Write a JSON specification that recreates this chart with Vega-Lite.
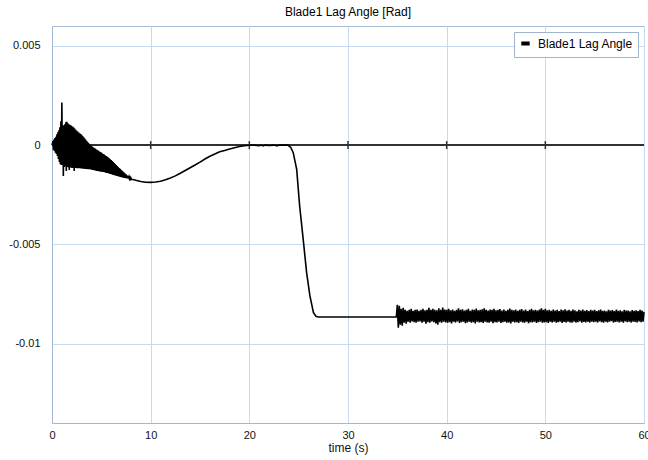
{
  "$schema": "https://vega.github.io/schema/vega-lite/v6.json",
  "width": 592,
  "height": 397,
  "autosize": {"type": "none"},
  "padding": {"left": 52, "top": 26, "right": 4, "bottom": 37},
  "title": {"text": "Blade1 Lag Angle [Rad]", "fontSize": 12, "fontWeight": "normal", "font": "Liberation Sans", "color": "#000000", "anchor": "middle", "offset": 7},
  "config": {
    "view": {"stroke": "#a9bcd6", "strokeWidth": 1},
    "axis": {"labelFont": "Liberation Sans", "labelFontSize": 11, "labelColor": "#111111", "titleFont": "Liberation Sans", "titleFontSize": 12, "titleFontWeight": "normal", "titleColor": "#111111", "gridColor": "#c6daf2", "gridWidth": 1, "gridOpacity": 1, "domainColor": "#a4b7d2", "ticks": false}
  },
  "data": {"values": [
    {"t":0.0,"v":0},{"t":0.1,"v":0.0002},{"t":0.15,"v":-0.00025},{"t":0.2,"v":0.00028},{"t":0.25,"v":-0.0003},{"t":0.3,"v":0.00035},{"t":0.35,"v":-0.00038},{"t":0.4,"v":0.00042},{"t":0.45,"v":-0.00045},
    {"t":0.5,"v":0.00055},{"t":0.55,"v":-0.00055},{"t":0.6,"v":0.00065},{"t":0.65,"v":-0.0007},{"t":0.7,"v":0.00075},{"t":0.75,"v":-0.00085},{"t":0.8,"v":0.0009},{"t":0.85,"v":-0.00097},{"t":0.9,"v":0.0012},{"t":0.95,"v":-0.001},
    {"t":1.0,"v":0.00214},{"t":1.05,"v":-0.001},{"t":1.1,"v":0.001},{"t":1.15,"v":-0.00156},{"t":1.2,"v":0.001},{"t":1.25,"v":-0.0011},{"t":1.3,"v":0.00105},{"t":1.35,"v":-0.00105},{"t":1.4,"v":0.00115},{"t":1.45,"v":-0.0013},
    {"t":1.5,"v":0.00118},{"t":1.55,"v":-0.0011},{"t":1.6,"v":0.0011},{"t":1.65,"v":-0.00112},{"t":1.7,"v":0.00105},{"t":1.75,"v":-0.00125},{"t":1.8,"v":0.00102},{"t":1.85,"v":-0.00112},{"t":1.9,"v":0.001},{"t":1.95,"v":-0.00114},
    {"t":2.0,"v":0.00096},{"t":2.05,"v":-0.00115},{"t":2.1,"v":0.00092},{"t":2.15,"v":-0.00114},{"t":2.2,"v":0.00088},{"t":2.25,"v":-0.0013},{"t":2.3,"v":0.00083},{"t":2.35,"v":-0.00115},{"t":2.4,"v":0.00077},{"t":2.45,"v":-0.00115},
    {"t":2.5,"v":0.00072},{"t":2.55,"v":-0.00116},{"t":2.6,"v":0.00068},{"t":2.65,"v":-0.00116},{"t":2.7,"v":0.00064},{"t":2.75,"v":-0.00117},{"t":2.8,"v":0.0006},{"t":2.85,"v":-0.00117},{"t":2.9,"v":0.00056},{"t":2.95,"v":-0.00118},
    {"t":3.0,"v":0.00052},{"t":3.05,"v":-0.00118},{"t":3.1,"v":0.00046},{"t":3.15,"v":-0.00119},{"t":3.2,"v":0.0004},{"t":3.25,"v":-0.00119},{"t":3.3,"v":0.00034},{"t":3.35,"v":-0.0012},{"t":3.4,"v":0.00028},{"t":3.45,"v":-0.0012},
    {"t":3.5,"v":0.00022},{"t":3.55,"v":-0.0012},{"t":3.6,"v":0.00017},{"t":3.65,"v":-0.00121},{"t":3.7,"v":0.00011},{"t":3.75,"v":-0.00122},{"t":3.8,"v":0.00006},{"t":3.85,"v":-0.00122},{"t":3.9,"v":0.00001},{"t":3.95,"v":-0.00123},
    {"t":4.0,"v":-0.00004},{"t":4.05,"v":-0.00124},{"t":4.1,"v":-0.00008},{"t":4.15,"v":-0.00125},{"t":4.2,"v":-0.00012},{"t":4.25,"v":-0.00126},{"t":4.3,"v":-0.00015},{"t":4.35,"v":-0.00127},{"t":4.4,"v":-0.00019},{"t":4.45,"v":-0.00129},
    {"t":4.5,"v":-0.00022},{"t":4.55,"v":-0.0013},{"t":4.6,"v":-0.00025},{"t":4.65,"v":-0.00131},{"t":4.7,"v":-0.00028},{"t":4.75,"v":-0.00132},{"t":4.8,"v":-0.00032},{"t":4.85,"v":-0.00133},{"t":4.9,"v":-0.00035},{"t":4.95,"v":-0.00134},
    {"t":5.0,"v":-0.00038},{"t":5.05,"v":-0.00134},{"t":5.1,"v":-0.00042},{"t":5.15,"v":-0.00135},{"t":5.2,"v":-0.00045},{"t":5.25,"v":-0.00136},{"t":5.3,"v":-0.00048},{"t":5.35,"v":-0.00137},{"t":5.4,"v":-0.00052},{"t":5.45,"v":-0.00139},
    {"t":5.5,"v":-0.00055},{"t":5.55,"v":-0.0014},{"t":5.6,"v":-0.00059},{"t":5.65,"v":-0.00141},{"t":5.7,"v":-0.00063},{"t":5.75,"v":-0.00143},{"t":5.8,"v":-0.00067},{"t":5.85,"v":-0.00144},{"t":5.9,"v":-0.00071},{"t":5.95,"v":-0.00146},
    {"t":6.0,"v":-0.00075},{"t":6.05,"v":-0.00147},{"t":6.1,"v":-0.0008},{"t":6.15,"v":-0.00149},{"t":6.2,"v":-0.00085},{"t":6.25,"v":-0.0015},{"t":6.3,"v":-0.0009},{"t":6.35,"v":-0.00152},{"t":6.4,"v":-0.00095},{"t":6.45,"v":-0.00153},
    {"t":6.5,"v":-0.001},{"t":6.55,"v":-0.00155},{"t":6.6,"v":-0.00105},{"t":6.65,"v":-0.00156},{"t":6.7,"v":-0.0011},{"t":6.75,"v":-0.00158},{"t":6.8,"v":-0.00115},{"t":6.85,"v":-0.00159},{"t":6.9,"v":-0.0012},{"t":6.95,"v":-0.00161},
    {"t":7.0,"v":-0.00125},{"t":7.05,"v":-0.00162},{"t":7.1,"v":-0.0013},{"t":7.15,"v":-0.00163},{"t":7.2,"v":-0.00134},{"t":7.25,"v":-0.00164},{"t":7.3,"v":-0.00139},{"t":7.35,"v":-0.00165},{"t":7.4,"v":-0.00144},{"t":7.45,"v":-0.00166},
    {"t":7.5,"v":-0.00148},{"t":7.55,"v":-0.00167},{"t":7.6,"v":-0.00152},{"t":7.65,"v":-0.00168},{"t":7.7,"v":-0.00156},{"t":7.75,"v":-0.00169},{"t":7.8,"v":-0.0016},{"t":7.85,"v":-0.0017},{"t":7.9,"v":-0.00163},{"t":7.95,"v":-0.00171},
    {"t":8.0,"v":-0.00166},{"t":8.05,"v":-0.00172},{"t":8.2,"v":-0.00173},{"t":8.5,"v":-0.00177},{"t":9.0,"v":-0.00183},{"t":9.5,"v":-0.00187},{"t":10.0,"v":-0.00188},{"t":10.5,"v":-0.00186},{"t":11.0,"v":-0.00182},{"t":11.5,"v":-0.00175},{"t":12.0,"v":-0.00166},{"t":12.5,"v":-0.00155},{"t":13.0,"v":-0.00142},{"t":13.5,"v":-0.00128},{"t":14.0,"v":-0.00114},{"t":14.5,"v":-0.001},{"t":15.0,"v":-0.00086},{"t":15.5,"v":-0.0007},{"t":16.0,"v":-0.00056},{"t":16.5,"v":-0.00045},{"t":17.0,"v":-0.00034},{"t":17.5,"v":-0.00027},{"t":18.0,"v":-0.0002},{"t":18.5,"v":-0.00013},{"t":19.0,"v":-0.00007},{"t":19.5,"v":-0.00003},{"t":20.0,"v":-0.00001},{"t":20.5,"v":0},{"t":21.0,"v":-0.00003},{"t":21.2,"v":0},{"t":21.4,"v":-0.00004},{"t":21.6,"v":0},{"t":22.0,"v":-0.00002},{"t":22.5,"v":0},{"t":22.8,"v":-0.00004},{"t":23.0,"v":0},{"t":23.5,"v":0},{"t":23.9,"v":0},{"t":24.2,"v":-0.00012},{"t":24.45,"v":-0.00038},{"t":24.8,"v":-0.00122},{"t":25.1,"v":-0.00307},{"t":25.46,"v":-0.00475},{"t":25.8,"v":-0.0064},{"t":26.14,"v":-0.0076},{"t":26.5,"v":-0.00844},{"t":26.75,"v":-0.00862},{"t":27.0,"v":-0.00866},{"t":30.0,"v":-0.00866},{"t":34.9,"v":-0.00866},
    {"t":35.0,"v":-0.00805},{"t":35.1,"v":-0.0092},{"t":35.2,"v":-0.0081},{"t":35.3,"v":-0.00905},{"t":35.4,"v":-0.00825},{"t":35.5,"v":-0.0091},{"t":35.6,"v":-0.0082},{"t":35.7,"v":-0.00895},{"t":35.8,"v":-0.0083},{"t":35.9,"v":-0.009},{"t":36.0,"v":-0.00835},{"t":36.1,"v":-0.0089},{"t":36.2,"v":-0.0083},{"t":36.3,"v":-0.00895},{"t":36.4,"v":-0.00825},{"t":36.5,"v":-0.00888},{"t":36.6,"v":-0.00835},{"t":36.7,"v":-0.00892},{"t":36.8,"v":-0.0083},{"t":36.9,"v":-0.00895},{"t":37.0,"v":-0.00828},{"t":37.1,"v":-0.0089},{"t":37.2,"v":-0.00835},{"t":37.3,"v":-0.00888},{"t":37.4,"v":-0.0083},{"t":37.5,"v":-0.00895},{"t":37.6,"v":-0.00825},{"t":37.7,"v":-0.0089},{"t":37.8,"v":-0.00832},{"t":37.9,"v":-0.009},{"t":38.0,"v":-0.0083},{"t":38.1,"v":-0.00892},{"t":38.2,"v":-0.0082},{"t":38.3,"v":-0.00895},{"t":38.4,"v":-0.0083},{"t":38.5,"v":-0.00888},{"t":38.6,"v":-0.00825},{"t":38.7,"v":-0.00892},{"t":38.8,"v":-0.0083},{"t":38.9,"v":-0.00898},{"t":39.0,"v":-0.00832},{"t":39.1,"v":-0.00905},{"t":39.2,"v":-0.00822},{"t":39.3,"v":-0.00892},{"t":39.4,"v":-0.0083},{"t":39.5,"v":-0.00895},{"t":39.6,"v":-0.00818},{"t":39.7,"v":-0.0089},{"t":39.8,"v":-0.00828},{"t":39.9,"v":-0.00893},
    {"t":40.0,"v":-0.0083},{"t":40.1,"v":-0.00895},{"t":40.2,"v":-0.00825},{"t":40.3,"v":-0.00892},{"t":40.4,"v":-0.00832},{"t":40.5,"v":-0.00898},{"t":40.6,"v":-0.00828},{"t":40.7,"v":-0.0089},{"t":40.8,"v":-0.00835},{"t":40.9,"v":-0.00894},{"t":41.0,"v":-0.0083},{"t":41.1,"v":-0.00888},{"t":41.2,"v":-0.00822},{"t":41.3,"v":-0.00896},{"t":41.4,"v":-0.0083},{"t":41.5,"v":-0.00892},{"t":41.6,"v":-0.00827},{"t":41.7,"v":-0.0089},{"t":41.8,"v":-0.00833},{"t":41.9,"v":-0.00897},{"t":42.0,"v":-0.0083},{"t":42.1,"v":-0.00893},{"t":42.2,"v":-0.00825},{"t":42.3,"v":-0.00889},{"t":42.4,"v":-0.00835},{"t":42.5,"v":-0.00895},{"t":42.6,"v":-0.00828},{"t":42.7,"v":-0.00892},{"t":42.8,"v":-0.0083},{"t":42.9,"v":-0.00898},{"t":43.0,"v":-0.00824},{"t":43.1,"v":-0.0089},{"t":43.2,"v":-0.00832},{"t":43.3,"v":-0.00894},{"t":43.4,"v":-0.0083},{"t":43.5,"v":-0.00892},{"t":43.6,"v":-0.00827},{"t":43.7,"v":-0.00896},{"t":43.8,"v":-0.00822},{"t":43.9,"v":-0.00889},{"t":44.0,"v":-0.0083},{"t":44.1,"v":-0.00893},{"t":44.2,"v":-0.00834},{"t":44.3,"v":-0.00895},{"t":44.4,"v":-0.00828},{"t":44.5,"v":-0.0089},{"t":44.6,"v":-0.0083},{"t":44.7,"v":-0.00897},{"t":44.8,"v":-0.00825},{"t":44.9,"v":-0.00892},
    {"t":45.0,"v":-0.00832},{"t":45.1,"v":-0.00894},{"t":45.2,"v":-0.0083},{"t":45.3,"v":-0.0089},{"t":45.4,"v":-0.00826},{"t":45.5,"v":-0.00896},{"t":45.6,"v":-0.00833},{"t":45.7,"v":-0.00892},{"t":45.8,"v":-0.00828},{"t":45.9,"v":-0.00889},{"t":46.0,"v":-0.00835},{"t":46.1,"v":-0.00895},{"t":46.2,"v":-0.0083},{"t":46.3,"v":-0.00893},{"t":46.4,"v":-0.00824},{"t":46.5,"v":-0.00898},{"t":46.6,"v":-0.0083},{"t":46.7,"v":-0.0089},{"t":46.8,"v":-0.00832},{"t":46.9,"v":-0.00894},{"t":47.0,"v":-0.00828},{"t":47.1,"v":-0.00892},{"t":47.2,"v":-0.00835},{"t":47.3,"v":-0.00896},{"t":47.4,"v":-0.0083},{"t":47.5,"v":-0.00889},{"t":47.6,"v":-0.00826},{"t":47.7,"v":-0.00893},{"t":47.8,"v":-0.00833},{"t":47.9,"v":-0.00895},{"t":48.0,"v":-0.00829},{"t":48.1,"v":-0.0089},{"t":48.2,"v":-0.00836},{"t":48.3,"v":-0.00897},{"t":48.4,"v":-0.0083},{"t":48.5,"v":-0.00892},{"t":48.6,"v":-0.00825},{"t":48.7,"v":-0.00894},{"t":48.8,"v":-0.00832},{"t":48.9,"v":-0.0089},{"t":49.0,"v":-0.0083},{"t":49.1,"v":-0.00896},{"t":49.2,"v":-0.00834},{"t":49.3,"v":-0.00892},{"t":49.4,"v":-0.00828},{"t":49.5,"v":-0.00889},{"t":49.6,"v":-0.00822},{"t":49.7,"v":-0.00895},{"t":49.8,"v":-0.0083},{"t":49.9,"v":-0.00893},
    {"t":50.0,"v":-0.00825},{"t":50.1,"v":-0.00892},{"t":50.2,"v":-0.00832},{"t":50.3,"v":-0.00896},{"t":50.4,"v":-0.0083},{"t":50.5,"v":-0.0089},{"t":50.6,"v":-0.00835},{"t":50.7,"v":-0.00894},{"t":50.8,"v":-0.00828},{"t":50.9,"v":-0.00889},{"t":51.0,"v":-0.00833},{"t":51.1,"v":-0.00895},{"t":51.2,"v":-0.0083},{"t":51.3,"v":-0.00892},{"t":51.4,"v":-0.00836},{"t":51.5,"v":-0.0089},{"t":51.6,"v":-0.00829},{"t":51.7,"v":-0.00896},{"t":51.8,"v":-0.00832},{"t":51.9,"v":-0.00891},{"t":52.0,"v":-0.00827},{"t":52.1,"v":-0.00894},{"t":52.2,"v":-0.00834},{"t":52.3,"v":-0.00889},{"t":52.4,"v":-0.0083},{"t":52.5,"v":-0.00893},{"t":52.6,"v":-0.00835},{"t":52.7,"v":-0.00895},{"t":52.8,"v":-0.00828},{"t":52.9,"v":-0.0089},{"t":53.0,"v":-0.00832},{"t":53.1,"v":-0.00894},{"t":53.2,"v":-0.00837},{"t":53.3,"v":-0.00892},{"t":53.4,"v":-0.0083},{"t":53.5,"v":-0.00888},{"t":53.6,"v":-0.00833},{"t":53.7,"v":-0.00895},{"t":53.8,"v":-0.00828},{"t":53.9,"v":-0.00891},{"t":54.0,"v":-0.00835},{"t":54.1,"v":-0.00893},{"t":54.2,"v":-0.00831},{"t":54.3,"v":-0.00889},{"t":54.4,"v":-0.00836},{"t":54.5,"v":-0.00894},{"t":54.6,"v":-0.0083},{"t":54.7,"v":-0.0089},{"t":54.8,"v":-0.00834},{"t":54.9,"v":-0.00892},
    {"t":55.0,"v":-0.0083},{"t":55.1,"v":-0.0089},{"t":55.2,"v":-0.00836},{"t":55.3,"v":-0.00894},{"t":55.4,"v":-0.00832},{"t":55.5,"v":-0.00888},{"t":55.6,"v":-0.00828},{"t":55.7,"v":-0.00892},{"t":55.8,"v":-0.00835},{"t":55.9,"v":-0.00895},{"t":56.0,"v":-0.00833},{"t":56.1,"v":-0.00889},{"t":56.2,"v":-0.00837},{"t":56.3,"v":-0.00893},{"t":56.4,"v":-0.0083},{"t":56.5,"v":-0.0089},{"t":56.6,"v":-0.00834},{"t":56.7,"v":-0.00887},{"t":56.8,"v":-0.00831},{"t":56.9,"v":-0.00894},{"t":57.0,"v":-0.00836},{"t":57.1,"v":-0.00891},{"t":57.2,"v":-0.00829},{"t":57.3,"v":-0.00889},{"t":57.4,"v":-0.00835},{"t":57.5,"v":-0.00893},{"t":57.6,"v":-0.00832},{"t":57.7,"v":-0.0089},{"t":57.8,"v":-0.00838},{"t":57.9,"v":-0.00895},{"t":58.0,"v":-0.0083},{"t":58.1,"v":-0.00888},{"t":58.2,"v":-0.00834},{"t":58.3,"v":-0.00892},{"t":58.4,"v":-0.00833},{"t":58.5,"v":-0.0089},{"t":58.6,"v":-0.00837},{"t":58.7,"v":-0.00894},{"t":58.8,"v":-0.00831},{"t":58.9,"v":-0.00889},{"t":59.0,"v":-0.00835},{"t":59.1,"v":-0.00891},{"t":59.2,"v":-0.00832},{"t":59.3,"v":-0.00893},{"t":59.4,"v":-0.00836},{"t":59.5,"v":-0.00888},{"t":59.6,"v":-0.0083},{"t":59.7,"v":-0.00892},{"t":59.8,"v":-0.00834},{"t":59.9,"v":-0.0089},{"t":60.0,"v":-0.0084}
  ]},
  "layer": [
    {
      "mark": {"type": "rule", "color": "#333333", "strokeWidth": 1},
      "encoding": {"y": {"datum": 0, "type": "quantitative"}}
    },
    {
      "data": {"values": [{"t": 10}, {"t": 20}, {"t": 30}, {"t": 40}, {"t": 50}]},
      "mark": {"type": "tick", "orient": "vertical", "color": "#333333", "size": 8, "thickness": 1.5, "opacity": 1},
      "encoding": {
        "x": {"field": "t", "type": "quantitative"},
        "y": {"datum": 0, "type": "quantitative"}
      }
    },
    {
      "mark": {"type": "line", "strokeWidth": 1.6, "interpolate": "linear", "strokeJoin": "miter"},
      "encoding": {
        "x": {"field": "t", "type": "quantitative", "scale": {"domain": [0, 60], "nice": false, "zero": false},
          "axis": {"values": [0, 10, 20, 30, 40, 50, 60], "title": "time (s)", "labelPadding": 6, "titlePadding": 2, "grid": true, "labelFlush": false}},
        "y": {"field": "v", "type": "quantitative", "scale": {"domain": [-0.014, 0.006], "nice": false, "zero": false},
          "axis": {"values": [-0.01, -0.005, 0, 0.005], "title": null, "labelPadding": 12, "grid": true, "labelExpr": "toString(datum.value)"}},
        "color": {"datum": "Blade1 Lag Angle", "type": "nominal", "scale": {"range": ["#000000"]},
          "legend": {"title": null, "orient": "top-right", "offset": 6, "padding": 5, "strokeColor": "#9fb3d0", "fillColor": "#ffffff", "cornerRadius": 0, "labelFont": "Liberation Sans", "labelFontSize": 12, "labelColor": "#000000", "symbolType": "stroke", "symbolStrokeWidth": 4, "symbolSize": 70, "labelOffset": 6}}
      }
    }
  ]
}
